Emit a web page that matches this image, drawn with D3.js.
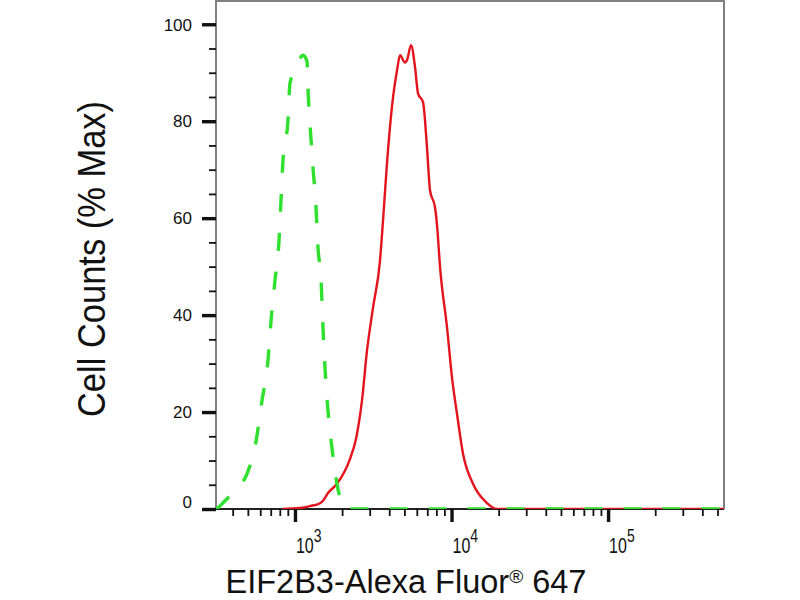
<!DOCTYPE html>
<html lang="en">
<head>
    <meta charset="UTF-8">
    <script src="https://cdn.jsdelivr.net/npm/d3@7"></script>
    <title>EIF2B3 flow histogram</title>
    <style>
        body { margin: 0; background: white; }
        svg { display: block; font-family: "Liberation Sans", Arial, Helvetica, sans-serif; }
        .frame { fill: none; stroke: #808080; stroke-width: 2px; }
        .axis path { display: none; }
        .axis line { stroke: #111; }
    </style>
</head>
<body>
    <div id="chart"></div>
    <script>
        // data (x = fluorescence, y = % max)
        const isotypeX = [313, 320, 357, 426, 493, 564, 615, 672, 703, 745, 791, 814, 838, 902, 929, 1030, 1125, 1193, 1212, 1247, 1303, 1362, 1403, 1466, 1510, 1555, 1626, 1723, 1854, 1939, 2086, 550000];
        const isotypeY = [0, 0.2, 1.7, 4.3, 7.2, 14.0, 22.3, 30.6, 38.8, 47.1, 55.4, 63.6, 71.9, 80.2, 87.8, 91.5, 93.6, 92.4, 86.4, 79.5, 70.5, 62.2, 53.9, 47.5, 37.4, 29.1, 20.2, 12.6, 5.2, 2.3, 0, 0];

        const sampleX = [830, 1076, 1247, 1445, 1510, 1626, 1854, 2244, 2455, 2678, 2883, 3150, 3491, 3651, 3870, 4229, 4486, 4690, 5047, 5198, 5511, 5848, 6111, 6578, 6970, 7291, 7846, 8081, 8451, 9363, 10070, 10840, 11840, 13710, 16860, 19540, 550000];
        const sampleY = [0, 0.2, 0.6, 1.2, 1.7, 3.3, 5.2, 10.3, 14.5, 22.3, 32.6, 41.5, 51.2, 59.5, 71.3, 84.9, 90.5, 93.6, 92.1, 92.6, 95.7, 91.1, 85.7, 83.9, 74.6, 65.7, 62.2, 58.5, 49.8, 37.4, 27.1, 19.6, 11.4, 5.2, 1.2, 0, 0];

        const yMajor = [0, 20, 40, 60, 80, 100];
        const yMinor = d3.range(0, 101, 5);
        const xMajor = [1e3, 1e4, 1e5];
        const xMajorExp = ["3", "4", "5"];
        const xMinor = [400, 500, 600, 700, 800, 900,
            2e3, 3e3, 4e3, 5e3, 6e3, 7e3, 8e3, 9e3,
            2e4, 3e4, 4e4, 5e4, 6e4, 7e4, 8e4, 9e4,
            2e5, 3e5, 4e5, 5e5];

        const xTitle = "EIF2B3-Alexa Fluor";
        const yTitle = "Cell Counts (% Max)";

        const W = 800, H = 600;
        const plot = { left: 216, right: 724, top: 1, bottom: 509 };

        const svg = d3.select("#chart").append("svg")
            .attr("width", W)
            .attr("height", H);

        const x = d3.scaleLog().domain([313, 550000]).range([plot.left, plot.right]);
        const y = d3.scaleLinear().domain([0, 104.8]).range([plot.bottom, plot.top]);

        svg.append("clipPath").attr("id", "clip")
            .append("rect")
            .attr("x", plot.left).attr("y", plot.top)
            .attr("width", plot.right - plot.left).attr("height", plot.bottom - plot.top);

        // frame (top/right/left gray)
        svg.append("path").attr("class", "frame")
            .attr("d", `M${plot.left},${plot.bottom} V${plot.top} H${plot.right} V${plot.bottom}`);
        svg.append("line")
            .attr("x1", plot.left).attr("x2", plot.right)
            .attr("y1", plot.bottom).attr("y2", plot.bottom)
            .attr("stroke", "#222").attr("stroke-width", 2);

        // y axis: minor + major ticks
        svg.append("g").attr("class", "axis")
            .attr("transform", `translate(${plot.left},0)`)
            .call(d3.axisLeft(y).tickValues(yMinor).tickSize(7).tickFormat(""))
            .selectAll("line").attr("stroke-width", 1.8);

        const yAx = svg.append("g").attr("class", "axis")
            .attr("transform", `translate(${plot.left},0)`)
            .call(d3.axisLeft(y).tickValues(yMajor).tickSize(14).tickPadding(10));
        yAx.selectAll("line").attr("stroke-width", 3.4);
        yAx.selectAll("text")
            .attr("font-size", 17)
            .attr("fill", "#111")
            .attr("font-family", "'Liberation Sans', Arial, sans-serif")
            .attr("dy", d => d === 0 ? "-0.1em" : "0.34em");

        // x axis: minor + major ticks
        svg.append("g").attr("class", "axis")
            .attr("transform", `translate(0,${plot.bottom})`)
            .call(d3.axisBottom(x).tickValues(xMinor).tickSize(7).tickFormat(""))
            .selectAll("line").attr("stroke-width", 1.8);

        svg.append("g").attr("class", "axis")
            .attr("transform", `translate(0,${plot.bottom})`)
            .call(d3.axisBottom(x).tickValues(xMajor).tickSize(13).tickFormat(""))
            .selectAll("line").attr("stroke-width", 3.4);

        // 10^n labels, stretched tall like the original export
        xMajor.forEach((v, i) => {
            const t = svg.append("text")
                .attr("transform", `translate(${x(v) + 1},553) scale(1,1.35)`)
                .attr("font-size", 16)
                .attr("fill", "#111");
            t.append("tspan").text("10");
            t.append("tspan").attr("dy", -8).attr("font-size", 14).text(xMajorExp[i]);
        });

        // curves
        const line = d3.line()
            .x(d => x(d[0]))
            .y(d => y(d[1]))
            .curve(d3.curveMonotoneX);

        const g = svg.append("g").attr("clip-path", "url(#clip)");

        g.append("path")
            .datum(d3.zip(sampleX, sampleY))
            .attr("d", line)
            .attr("fill", "none")
            .attr("stroke", "#e3141c")
            .attr("stroke-width", 2.4);

        g.append("path")
            .datum(d3.zip(isotypeX, isotypeY))
            .attr("d", line)
            .attr("fill", "none")
            .attr("stroke", "#2fe02f")
            .attr("stroke-width", 3.4)
            .attr("stroke-dasharray", "18,21");

        // axis titles
        const xt = svg.append("text")
            .attr("x", 406).attr("y", 593)
            .attr("text-anchor", "middle")
            .attr("font-size", 32.5)
            .attr("fill", "#111");
        xt.append("tspan").text(xTitle);
        xt.append("tspan").attr("font-size", 19).attr("dy", -10).text("®");
        xt.append("tspan").attr("dy", 10).text(" 647");

        svg.append("text")
            .attr("transform", "translate(105,259) rotate(-90) scale(1,1.12)")
            .attr("text-anchor", "middle")
            .attr("font-size", 34.5)
            .attr("fill", "#111")
            .text(yTitle);
    </script>
</body>
</html>
